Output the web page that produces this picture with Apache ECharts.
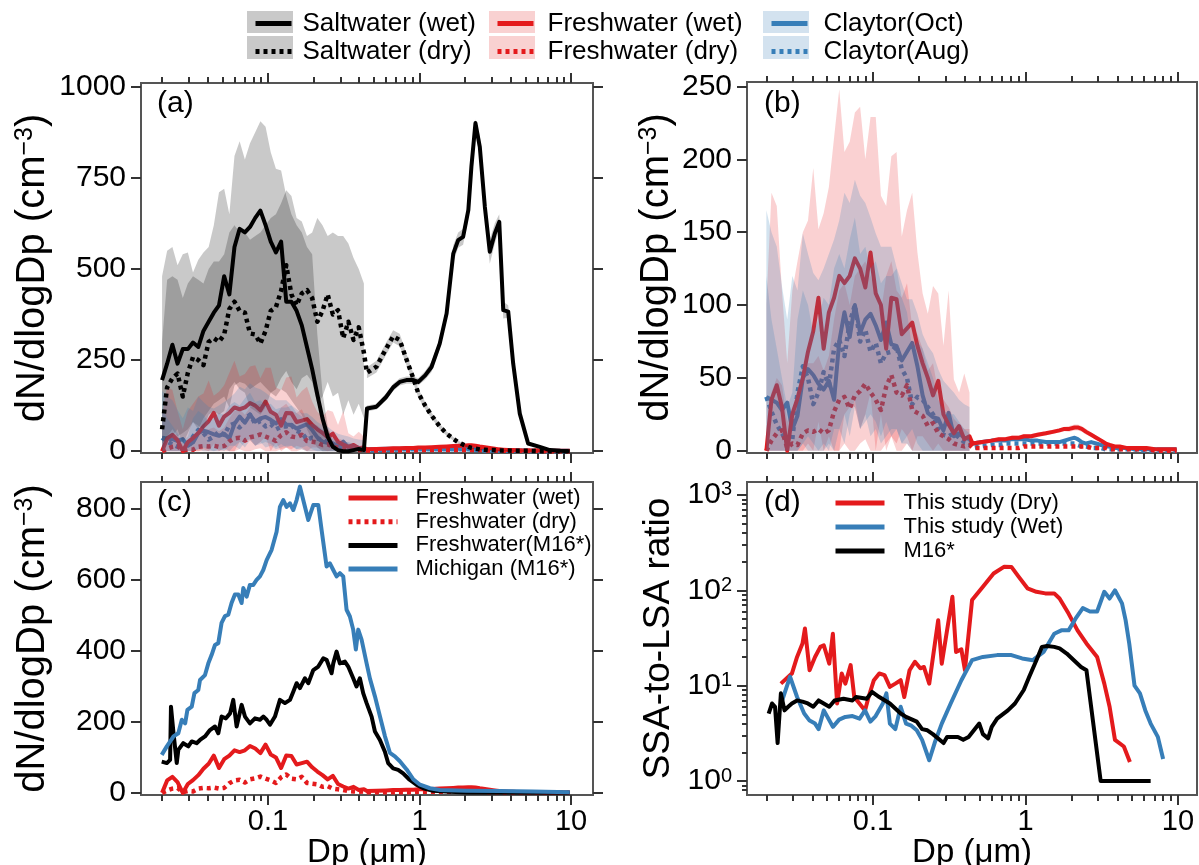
<!DOCTYPE html>
<html>
<head>
<meta charset="utf-8">
<title>Particle size distributions</title>
<script src="https://cdn.jsdelivr.net/npm/echarts@6.0.0/dist/echarts.min.js"></script>
<style>
html, body { margin:0; padding:0; background:#ffffff; }
#chart { width:1199px; height:865px; }
</style>
</head>
<body>
<div id="chart"></div>
<script>
// ---------------- tick labels ----------------
const X_MAJOR = [0.1, 1, 10];
const X_TICK_LABELS = ['0.1', '1', '10'];
const X_MINOR = [0.02,0.03,0.04,0.05,0.06,0.07,0.08,0.09,0.2,0.3,0.4,0.5,0.6,0.7,0.8,0.9,2,3,4,5,6,7,8,9];
const Y_TICKS_A = [0, 250, 500, 750, 1000];
const Y_TICKS_B = [0, 50, 100, 150, 200, 250];
const Y_TICKS_C = [0, 200, 400, 600, 800];
const Y_TICKS_D = [1, 10, 100, 1000];
const Y_MINOR_D = [0.8,0.9,2,3,4,5,6,7,8,9,20,30,40,50,60,70,80,90,200,300,400,500,600,700,800,900];

// ---------------- size bins (µm) ----------------
const DP_SMPS = [0.0200,0.0216,0.0234,0.0253,0.0274,0.0296,0.0320,0.0347,0.0375,0.0406,0.0439,0.0475,0.0514,0.0556,0.0601,0.0650,0.0704,0.0761,0.0824,0.0891,0.0964,0.1043,0.1128,0.1221,0.1320,0.1428,0.1545,0.1672,0.1809,0.1957,0.2117,0.2290,0.2477,0.2680,0.2899,0.3136,0.3393,0.3670,0.3971,0.4296];
const DP_APS = [0.45,0.52,0.60,0.67,0.74,0.82,0.91,0.98,1.09,1.20,1.36,1.51,1.67,1.80,1.94,2.10,2.20,2.34,2.50,2.70,2.91,3.14,3.36,3.57,3.85,4.15,4.59,5.21,6.22,7.24,8.50,9.80];

// ---------------- panel (a) saltwater ----------------
const SW_WET_SMPS = [195,240,292,240,280,280,298,286,330,355,380,400,480,430,560,610,600,615,640,660,620,575,545,575,410,410,385,345,285,225,155,90,40,12,3,0,0,3,6,3];
const SW_WET_APS = [117,122,148,175,190,195,195,190,208,231,295,378,542,579,588,661,780,900,835,670,547,597,629,387,383,241,103,21,12,3,1,0];
const SW_DRY_SMPS = [60,175,200,213,150,215,258,250,236,300,310,300,320,390,410,385,380,323,320,295,330,385,395,440,510,430,400,433,442,420,355,385,430,375,387,310,355,305,340,270];
const SW_DRY_APS = [215,232,280,315,305,252,200,160,125,98,68,48,34,25,18,12,9,7,5,4,3,3,2,2,2,1,1,1,0,0,0,0];

const SW_WET_HI_SMPS = [480,550,560,510,540,545,490,525,545,560,620,710,720,650,810,850,800,845,875,905,890,820,775,770,700,650,620,600,560,540,320,160,70,25,8,3,2,8,12,8];
const SW_WET_LO_SMPS = [20,40,60,40,50,60,80,60,90,110,130,140,150,120,180,190,185,170,180,190,175,160,150,170,160,140,120,100,60,30,10,0,0,0,0,0,0,0,0,0];
const SW_DRY_HI_SMPS = [300,470,480,470,420,460,480,470,460,500,520,520,540,600,620,600,600,580,590,600,620,640,650,680,716,700,640,630,590,600,640,620,590,600,590,590,570,530,500,460];
const SW_DRY_LO_SMPS = [0,30,40,60,20,50,80,70,60,100,110,100,110,170,190,170,160,120,110,100,120,160,170,200,220,190,170,200,210,190,130,150,190,150,160,100,140,100,130,90];
const SW_WET_HI_APS = [125,130,158,185,200,205,205,200,220,245,310,395,565,600,610,685,810,910,865,700,580,625,650,410,400,255,112,26,15,5,2,1];
const SW_WET_LO_APS = [109,114,138,165,180,185,185,180,196,217,280,361,519,558,566,637,750,880,805,640,514,569,608,364,366,227,94,16,9,1,0,0];
const SW_DRY_HI_APS = [230,248,297,332,322,268,214,172,135,106,75,54,39,29,21,15,11,9,7,5,4,4,3,3,3,2,2,2,1,1,0,0];
const SW_DRY_LO_APS = [200,216,263,298,288,236,186,148,115,90,61,42,29,21,15,9,7,5,3,3,2,2,1,1,1,0,0,0,0,0,0,0];

// ---------------- panels (a),(b) freshwater & Claytor ----------------
const FW_WET_SMPS = [0,35,45,30,0,25,36,50,68,82,105,70,95,105,120,115,120,132,125,112,136,108,100,70,105,104,80,84,88,72,60,50,38,48,25,18,12,17,8,10];
const FW_WET_APS = [5,6,7,8,8,9,9,10,10,11,12,13,14,15,15,16,16,15,13,11,9,7,5,4,3,3,2,2,2,1,1,1];
const FW_DRY_SMPS = [0,7,12,14,2,5,4,12,14,13,15,12,14,27,35,37,29,38,41,46,40,35,28,44,52,40,38,45,28,26,24,17,19,12,10,8,5,4,3,4];
const FW_DRY_APS = [2,2,2,2,2,2,2,3,3,3,3,3,3,3,3,3,3,3,3,2,2,2,2,1,1,1,1,1,1,0,0,0];
const CL_OCT_SMPS = [37,35,33,28,33,15,24,50,56,52,46,42,48,35,75,95,78,100,81,90,94,86,76,88,73,72,62,68,74,58,38,26,23,22,14,26,10,12,9,8];
const CL_OCT_APS = [5,6,7,7,7,8,8,8,7,7,6,6,6,7,8,9,8,6,5,6,5,4,3,3,2,2,2,1,1,1,1,1];
const CL_AUG_SMPS = [37,27,18,12,6,8,40,58,50,32,40,54,45,70,76,65,88,100,75,83,68,74,60,67,68,72,56,50,32,37,35,30,25,15,11,10,12,9,6,5];
const CL_AUG_APS = [2,3,4,4,5,5,5,5,5,5,5,5,5,5,5,5,4,3,3,2,2,2,1,1,1,1,1,1,0,0,0,0];

const FW_WET_HI_SMPS = [100,177,168,110,60,110,130,150,158,194,152,163,181,215,248,205,212,232,236,200,229,229,175,168,202,205,147,165,177,136,108,94,113,108,72,110,49,40,53,40];
const FW_WET_LO_SMPS = [0,0,0,0,0,0,0,0,5,0,20,0,10,0,0,25,30,30,15,25,40,0,25,0,10,5,15,10,0,10,10,5,0,5,0,0,0,0,0,0];
const FW_DRY_HI_SMPS = [10,40,50,45,20,30,35,55,60,60,65,55,65,90,110,115,100,120,125,130,120,110,95,120,130,110,105,115,85,80,70,55,60,40,35,30,22,18,15,15];
const FW_DRY_LO_SMPS = [0,0,0,0,0,0,0,0,0,0,0,0,0,0,0,5,0,0,5,8,0,0,0,5,10,0,0,5,0,0,0,0,0,0,0,0,0,0,0,0];
const CL_OCT_HI_SMPS = [165,150,140,113,90,120,110,149,135,122,117,125,135,145,158,177,170,186,175,170,160,149,140,140,140,126,115,104,104,94,80,72,67,56,48,44,40,35,32,30];
const CL_OCT_LO_SMPS = [0,0,0,0,0,0,0,5,10,5,0,0,5,0,15,25,10,30,15,20,25,20,10,20,10,15,5,10,15,5,0,0,0,0,0,0,0,0,0,0];
const CL_AUG_HI_SMPS = [120,90,70,50,30,40,90,110,100,80,90,105,100,125,135,125,145,160,135,140,125,130,115,120,120,125,105,95,70,75,70,60,50,35,28,25,25,20,15,12];
const CL_AUG_LO_SMPS = [0,0,0,0,0,0,0,5,0,0,0,5,0,15,15,5,25,35,15,25,10,15,5,10,15,15,5,5,0,0,0,0,0,0,0,0,0,0,0,0];
const FW_WET_HI_APS = [6.5,7.5,8.5,9.5,9.5,10.5,10.5,11.5,11.5,12.5,13.5,14.5,15.5,16.5,17,18,18,17,15,12.5,10.5,8.5,6.5,5,4,4,3,3,2.5,1.5,1.5,1.5];
const FW_WET_LO_APS = [3.5,4.5,5.5,6.5,6.5,7.5,7.5,8.5,8.5,9.5,10.5,11.5,12.5,13.5,13,14,14,13,11,9.5,7.5,5.5,3.5,3,2,2,1,1,1.5,0.5,0.5,0.5];

// ---------------- panel (c) M16* ----------------
const DP_MI = [0.0199,0.0215,0.0238,0.0256,0.0270,0.0284,0.0294,0.0314,0.0327,0.0347,0.0356,0.0384,0.0404,0.0425,0.0447,0.0470,0.0494,0.0520,0.0547,0.0575,0.0605,0.0637,0.0670,0.0687,0.0723,0.0760,0.0800,0.0841,0.0885,0.0931,0.0980,0.1057,0.1140,0.1199,0.1262,0.1327,0.1396,0.1469,0.1545,0.1625,0.1709,0.1845,0.1991,0.2148,0.2259,0.2437,0.2563,0.2697,0.2836,0.2983,0.3138,0.3301,0.3472,0.3652,0.3802,0.3942,0.4147,0.4477,0.4709,0.5080,0.5480,0.5911,0.6377,0.6879,0.7420,0.8220,0.9100,1.007,1.172,1.365,2.04,3.39,5.62,9.82];
const MICHIGAN = [107,131,159,168,206,196,234,243,281,290,318,332,365,389,417,422,479,498,502,535,559,559,535,577,553,586,586,600,610,628,656,685,736,806,825,806,816,797,825,863,825,769,811,811,741,638,647,628,610,619,610,516,497,460,404,460,432,365,322,272,216,160,113,103,89,66,38,23,13,8,6,5,4,2];
const DP_FM = [0.0199,0.0215,0.0226,0.0229,0.0238,0.0250,0.0256,0.0276,0.0298,0.0314,0.0338,0.0356,0.0384,0.0414,0.0447,0.0470,0.0494,0.0528,0.0562,0.0590,0.0621,0.0670,0.0705,0.0760,0.0821,0.0885,0.0931,0.0980,0.1031,0.1112,0.1199,0.1294,0.1396,0.1469,0.1545,0.1625,0.1754,0.1845,0.1991,0.2148,0.2318,0.2437,0.2630,0.2697,0.2836,0.2983,0.3218,0.3385,0.3652,0.3840,0.4040,0.4250,0.4477,0.4830,0.5080,0.5480,0.5911,0.6210,0.6700,0.7230,0.7800,0.8600,0.9540,1.0600,1.2300,1.5900,2.0400,9.8];
const FW_M16 = [88,84,93,243,168,84,121,140,131,145,140,149,159,177,187,168,215,210,224,262,187,248,215,196,210,206,215,206,192,215,262,253,262,285,309,295,323,309,346,356,379,375,337,365,398,365,370,356,323,300,323,281,253,215,173,149,116,84,69,65,55,37,23,13,6,3,1,0];

// ---------------- panel (d) SSA-to-LSA ratio ----------------
const DP_DRY = [0.0249,0.0294,0.0318,0.0345,0.0358,0.0384,0.0417,0.0452,0.0476,0.0517,0.0546,0.0582,0.0624,0.0659,0.0714,0.0754,0.0887,0.0936,0.1014,0.1100,0.1191,0.1291,0.1402,0.1520,0.1604,0.1738,0.1884,0.2045,0.2158,0.2339,0.2677,0.2826,0.3319,0.3506,0.3800,0.4010,0.4467,0.5260,0.6180,0.7266,0.8090,0.9017,1.031,1.180,1.350,1.545,1.674,1.918,2.195,2.512,2.952,3.289,3.563,3.864,4.419,4.842];
const RATIO_DRY = [10.5,13.4,20,27.7,39.8,14.5,20,25.5,26.5,17,35,6.5,13.4,10.5,16.4,7.6,5.5,7.6,11.4,13.4,12.9,9.7,10.5,11.4,7.6,14.5,17.8,15.2,15.7,10.5,48.6,17,85.5,22.6,24,14.5,79,109,150,177,176,139,105,96.5,92.8,92.8,82,57,38,27.7,20,10.5,6,2.7,2.3,1.58];
const DP_WET = [0.0254,0.0286,0.0318,0.0354,0.0384,0.0417,0.0440,0.0476,0.0546,0.0600,0.0659,0.0734,0.0817,0.0887,0.0962,0.1042,0.1161,0.1225,0.1291,0.1402,0.1520,0.1648,0.1786,0.1937,0.2100,0.2339,0.2537,0.2826,0.3234,0.3800,0.4467,0.5260,0.6518,0.8090,0.9506,1.119,1.315,1.545,1.719,1.918,2.135,2.378,2.647,2.952,3.289,3.563,3.864,4.297,4.537,4.794,5.193,5.634,6.110,6.623,7.382,7.996];
const RATIO_WET = [7,12.4,7.6,5.1,4.3,4.0,3.5,5.5,3.7,4.4,4.7,4.8,4.5,5.5,4.2,4.8,6.5,8.3,4.0,3.5,6.0,4.0,3.8,3.4,2.7,1.65,2.5,4.0,6.5,11.4,18.5,20,20.9,20.9,19.3,18.5,22.6,35,38,38,50.7,65,60,60,96.5,82,100,73,48.6,27.7,10,8.3,5.5,4,2.9,1.7];
const DP_M16 = [0.0207,0.0218,0.0228,0.0237,0.0249,0.0263,0.0278,0.0294,0.0318,0.0345,0.0374,0.0406,0.0440,0.0517,0.0560,0.0641,0.0734,0.0775,0.0911,0.0986,0.1100,0.1291,0.1520,0.1648,0.1937,0.2100,0.2275,0.2470,0.2904,0.3062,0.3605,0.3908,0.4237,0.4977,0.5260,0.5690,0.6010,0.6518,0.7670,0.8535,0.9750,1.059,1.180,1.281,1.387,1.545,1.674,1.866,2.077,2.315,2.512,3.113,6.623];
const RATIO_M16 = [5.1,6.5,6.0,2.5,8.3,5.5,6.0,6.5,7.0,6.8,6.5,6.0,7.0,6.0,7.0,7.3,7.0,7.6,7.3,8.6,7.6,6.5,5.1,4.7,4.2,3.5,3.4,3.1,2.5,2.9,2.9,2.7,2.9,4.0,3.1,2.8,3.7,4.5,5.5,6.5,9.0,12.4,18.5,25.5,26,25.5,24.6,21.7,18.5,15.7,14.5,1.0,1.0];

// ---------------- styling ----------------
const FONT = "'Liberation Sans', Arial, Helvetica, sans-serif";
const RED = '#E41A1C', BLUE = '#377EB8', BLACK = '#000000';
const GRAY_BAND = 'rgba(0,0,0,0.21)';
const PINK_BAND = 'rgba(228,26,28,0.20)';
const BLUE_BAND = 'rgba(55,126,184,0.22)';
const TICK = { color: '#333333', width: 2 };
const DOT = [4, 4];

const GRIDS = [
  { left: 141, top: 83, width: 452, height: 370 },
  { left: 747, top: 82, width: 450, height: 371 },
  { left: 141, top: 482, width: 452, height: 313 },
  { left: 747, top: 482, width: 450, height: 313 }
];
const XR = [[-1.838, 1.145], [-1.826, 1.125], [-1.838, 1.145], [-1.826, 1.125]];
const YR = [[-5, 1010], [-1.5, 253], [-6, 876], [-0.147, 3.136]];

const L10 = Math.log10;
const cat = (a, b) => a.concat(b);

function makeX(g, withLabels) {
  const maj = X_MAJOR.map(L10), mnr = X_MINOR.map(L10);
  const base = { type: 'value', gridIndex: g, min: XR[g][0], max: XR[g][1],
    splitLine: { show: false }, axisLine: { show: false, onZero: false } };
  return [
    Object.assign({}, base, { position: 'bottom',
      axisTick: { show: true, customValues: maj, length: 10, lineStyle: TICK },
      axisLabel: { show: withLabels, customValues: maj, formatter: v => X_TICK_LABELS[Math.round(v) + 1],
        margin: 12, fontSize: 29, fontFamily: FONT, color: '#000' },
      name: withLabels ? 'Dp (μm)' : '', nameLocation: 'middle', nameGap: 35,
      nameTextStyle: { fontSize: 33, fontFamily: FONT, color: '#000' } }),
    Object.assign({}, base, { position: 'bottom',
      axisTick: { show: true, customValues: mnr, length: 6, lineStyle: TICK }, axisLabel: { show: false } }),
    Object.assign({}, base, { position: 'top',
      axisTick: { show: true, customValues: maj, length: 10, lineStyle: TICK }, axisLabel: { show: false } }),
    Object.assign({}, base, { position: 'top',
      axisTick: { show: true, customValues: mnr, length: 6, lineStyle: TICK }, axisLabel: { show: false } })
  ];
}

function titleRich(size) {
  return {
    n: { fontSize: size, fontFamily: FONT, color: '#000' },
    s: { fontSize: Math.round(size * 0.62), fontFamily: FONT, color: '#000', verticalAlign: 'top' }
  };
}
function makeY(g, ticks, fmt, name, gap, nameSize, minor, rightTicks) {
  const base = { type: 'value', gridIndex: g, min: YR[g][0], max: YR[g][1],
    splitLine: { show: false }, axisLine: { show: false, onZero: false } };
  return [
    Object.assign({}, base, { position: 'left',
      axisTick: { show: true, customValues: ticks, length: 10, lineStyle: TICK },
      axisLabel: { show: true, customValues: ticks, formatter: fmt, margin: 15, fontSize: 30, fontFamily: FONT, color: '#000',
        rich: { s: { fontSize: 20, fontFamily: FONT, color: '#000', verticalAlign: 'top' } } },
      name: name, nameLocation: 'middle', nameRotate: 90, nameGap: gap,
      nameTextStyle: { fontSize: nameSize, fontFamily: FONT, color: '#000', rich: titleRich(nameSize) } }),
    Object.assign({}, base, { position: 'right',
      axisTick: { show: rightTicks, customValues: ticks, length: 10, lineStyle: TICK }, axisLabel: { show: false } }),
    Object.assign({}, base, { position: 'left',
      axisTick: { show: !!minor, customValues: minor || ticks, length: 5, lineStyle: TICK }, axisLabel: { show: false } })
  ];
}

function mkLine(name, g, xs, ys, color, dotted, logY, z) {
  return {
    type: 'line', name: name, xAxisIndex: g * 4, yAxisIndex: g * 3,
    data: xs.map((x, i) => [L10(x), logY ? L10(ys[i]) : ys[i]]),
    symbol: 'none', showSymbol: false, silent: true, clip: true, z: z || 2,
    lineStyle: { color: color, width: dotted ? 4.5 : 4, type: dotted ? DOT : 'solid', cap: 'butt', join: 'round' },
    itemStyle: { color: color }, emphasis: { disabled: true }, animation: false
  };
}

function mkBand(g, xs, lo, hi, fill) {
  return {
    type: 'custom', xAxisIndex: g * 4, yAxisIndex: g * 3, z: 3, silent: true, clip: true,
    data: [[L10(xs[0]), lo[0]]], animation: false,
    renderItem: function (params, api) {
      const up = xs.map((x, i) => api.coord([L10(x), hi[i]]));
      const dn = xs.map((x, i) => api.coord([L10(x), lo[i]])).reverse();
      return { type: 'polygon', shape: { points: up.concat(dn) }, style: { fill: fill } };
    }
  };
}

const series = [];
series.push(mkBand(0, DP_SMPS, SW_WET_LO_SMPS, SW_WET_HI_SMPS, GRAY_BAND));
series.push(mkBand(0, DP_SMPS, SW_DRY_LO_SMPS, SW_DRY_HI_SMPS, GRAY_BAND));
series.push(mkBand(0, DP_APS, SW_WET_LO_APS, SW_WET_HI_APS, GRAY_BAND));
series.push(mkBand(0, DP_APS, SW_DRY_LO_APS, SW_DRY_HI_APS, GRAY_BAND));
[0, 1].forEach(g => {
  series.push(mkBand(g, DP_SMPS, FW_WET_LO_SMPS, FW_WET_HI_SMPS, PINK_BAND));
  series.push(mkBand(g, DP_SMPS, FW_DRY_LO_SMPS, FW_DRY_HI_SMPS, PINK_BAND));
  series.push(mkBand(g, DP_SMPS, CL_OCT_LO_SMPS, CL_OCT_HI_SMPS, BLUE_BAND));
  series.push(mkBand(g, DP_SMPS, CL_AUG_LO_SMPS, CL_AUG_HI_SMPS, BLUE_BAND));
  series.push(mkBand(g, DP_APS, FW_WET_LO_APS, FW_WET_HI_APS, PINK_BAND));
  series.push(mkLine('Claytor(Oct)', g, cat(DP_SMPS, DP_APS), cat(CL_OCT_SMPS, CL_OCT_APS), BLUE, false));
  series.push(mkLine('Claytor(Aug)', g, cat(DP_SMPS, DP_APS), cat(CL_AUG_SMPS, CL_AUG_APS), BLUE, true));
  series.push(mkLine('Freshwater (wet)', g, cat(DP_SMPS, DP_APS), cat(FW_WET_SMPS, FW_WET_APS), RED, false));
  series.push(mkLine('Freshwater (dry)', g, cat(DP_SMPS, DP_APS), cat(FW_DRY_SMPS, FW_DRY_APS), RED, true));
});
series.push(mkLine('Saltwater (wet)', 0, cat(DP_SMPS, DP_APS), cat(SW_WET_SMPS, SW_WET_APS), BLACK, false, false, 5));
series.push(mkLine('Saltwater (dry)', 0, cat(DP_SMPS, DP_APS), cat(SW_DRY_SMPS, SW_DRY_APS), BLACK, true, false, 5));
series.push(mkLine('Freshwater (wet)', 2, cat(DP_SMPS, DP_APS), cat(FW_WET_SMPS, FW_WET_APS), RED, false));
series.push(mkLine('Freshwater (dry)', 2, cat(DP_SMPS, DP_APS), cat(FW_DRY_SMPS, FW_DRY_APS), RED, true));
series.push(mkLine('Freshwater(M16*)', 2, DP_FM, FW_M16, BLACK, false));
series.push(mkLine('Michigan (M16*)', 2, DP_MI, MICHIGAN, BLUE, false));
series.push(mkLine('This study (Dry)', 3, DP_DRY, RATIO_DRY, RED, false, true));
series.push(mkLine('This study (Wet)', 3, DP_WET, RATIO_WET, BLUE, false, true));
series.push(mkLine('M16*', 3, DP_M16, RATIO_M16, BLACK, false, true));

const YNAME = '{n|dN/dlogDp (cm}{s|−3}{n|)}';
const plain = v => String(v);
const pow10 = v => '10{s|' + Math.round(v) + '}';

const xAxis = [].concat(makeX(0, false), makeX(1, false), makeX(2, true), makeX(3, true));
const yAxis = [].concat(
  makeY(0, Y_TICKS_A, plain, YNAME, 88, 40, null, true),
  makeY(1, Y_TICKS_B, plain, YNAME, 70, 40, null, false),
  makeY(2, Y_TICKS_C, plain, YNAME, 88, 40, null, true),
  makeY(3, Y_TICKS_D.map(L10), pow10, '{n|SSA-to-LSA ratio}', 70, 37, Y_MINOR_D.map(L10), false)
);

function legendCol(names, left, top, w, font, textPad, gap, lh) {
  const ts = { fontSize: font, fontFamily: FONT, color: '#000', padding: [0, 0, 0, textPad], lineHeight: lh };
  return {
    data: names.map(n => ({ name: n, textStyle: ts })), orient: 'vertical', left: left, top: top, padding: 0,
    itemWidth: w, itemHeight: 14, itemGap: gap, selectedMode: false,
    textStyle: ts, lineStyle: { width: 5 }, itemStyle: { opacity: 0 }
  };
}

const LETTER = { fontSize: 30, fontWeight: 'normal', fontFamily: FONT, color: '#000' };
const option = {
  animation: false,
  backgroundColor: '#ffffff',
  textStyle: { fontFamily: FONT },
  title: [
    { text: '(a)', left: 157, top: 89, padding: 0, textStyle: LETTER },
    { text: '(b)', left: 764, top: 89, padding: 0, textStyle: LETTER },
    { text: '(c)', left: 157, top: 488, padding: 0, textStyle: LETTER },
    { text: '(d)', left: 764, top: 488, padding: 0, textStyle: LETTER }
  ],
  grid: GRIDS.map(g => Object.assign({}, g, { show: true, borderColor: '#555555', borderWidth: 2,
    backgroundColor: 'transparent', containLabel: false, outerBoundsMode: 'none' })),
  graphic: [
    { type: 'rect', shape: { x: 247, y: 11, width: 46, height: 22 }, style: { fill: '#c9c9c9' }, silent: true },
    { type: 'rect', shape: { x: 247, y: 36, width: 46, height: 23 }, style: { fill: '#c9c9c9' }, silent: true },
    { type: 'rect', shape: { x: 489, y: 11, width: 46, height: 22 }, style: { fill: '#f9d1d1' }, silent: true },
    { type: 'rect', shape: { x: 489, y: 36, width: 46, height: 23 }, style: { fill: '#f9d1d1' }, silent: true },
    { type: 'rect', shape: { x: 763, y: 11, width: 46, height: 22 }, style: { fill: '#d3e2ef' }, silent: true },
    { type: 'rect', shape: { x: 763, y: 36, width: 46, height: 23 }, style: { fill: '#d3e2ef' }, silent: true }
  ],
  legend: [
    legendCol(['Saltwater (wet)', 'Saltwater (dry)'], 253, 10.5, 36, 26, 6, 2, 23),
    legendCol(['Freshwater (wet)', 'Freshwater (dry)'], 495, 10.5, 36, 26, 9, 2, 23),
    legendCol(['Claytor(Oct)', 'Claytor(Aug)'], 769, 10.5, 36, 26, 11, 2, 23),
    legendCol(['Freshwater (wet)', 'Freshwater (dry)', 'Freshwater(M16*)', 'Michigan (M16*)'], 346, 487, 49, 22, 13, 1.7, 22),
    legendCol(['This study (Dry)', 'This study (Wet)', 'M16*'], 833, 492, 49, 22, 14, 2, 22)
  ],
  xAxis: xAxis,
  yAxis: yAxis,
  series: series
};

const chart = echarts.init(document.getElementById('chart'), null, { renderer: 'canvas', width: 1199, height: 865 });
chart.setOption(option);
</script>
</body>
</html>
